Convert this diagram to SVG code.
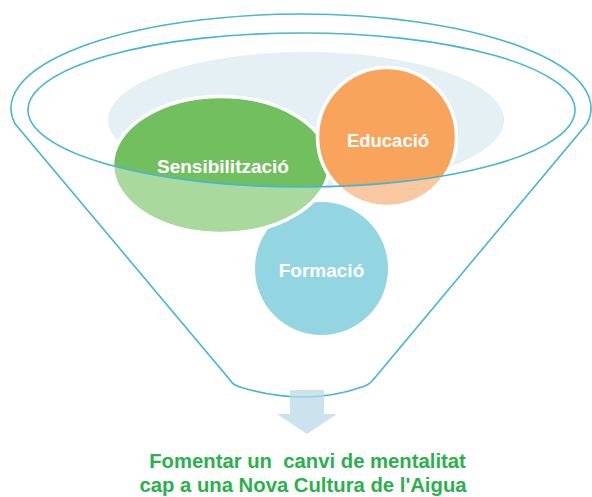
<svg xmlns="http://www.w3.org/2000/svg" width="592" height="497" viewBox="0 0 592 497">
  <style>
    .line { fill: none; stroke: #45b6d3; stroke-width: 1.6; }
    .ring { fill: none; stroke: #ffffff; stroke-width: 3.5; }
    .lbl { font-family: "Liberation Sans", Arial, sans-serif; font-weight: bold; fill: #ffffff; text-anchor: middle; }
    .goal { font-family: "Liberation Sans", Arial, sans-serif; font-weight: bold; fill: #2bb04e; text-anchor: middle; font-size: 20.3px; }
  </style>
  <defs>
    <clipPath id="inner">
      <ellipse cx="301.5" cy="110" rx="273.5" ry="77"/>
    </clipPath>
  </defs>
  <rect width="592" height="497" fill="#ffffff"/>

  <g id="back">
    <ellipse cx="306" cy="120" rx="198" ry="68" fill="#e4f0f4"/>
  </g>

  <g id="node-formacio">
    <circle cx="321.5" cy="268.5" r="66.5" fill="#94d5e2"/>
    <text class="lbl" x="321.5" y="277" font-size="19">Formació</text>
  </g>

  <g id="node-sensibilitzacio">
    <ellipse cx="221" cy="165" rx="107" ry="67" fill="#a9d99c"/>
    <ellipse cx="221" cy="165" rx="107" ry="67" fill="#72bf5f" clip-path="url(#inner)"/>
    <ellipse class="ring" cx="221" cy="165" rx="108.5" ry="68.5"/>
    <text class="lbl" x="223" y="173" font-size="19">Sensibilització</text>
  </g>

  <g id="node-educacio">
    <circle cx="387" cy="137" r="68" fill="#f9c8a0"/>
    <circle cx="387" cy="137" r="68" fill="#f8a45d" clip-path="url(#inner)"/>
    <circle class="ring" cx="387" cy="137" r="69.5"/>
    <text class="lbl" x="388" y="147" font-size="18.5">Educació</text>
  </g>

  <g id="funnel">
    <ellipse class="line" cx="301.5" cy="110" rx="273.5" ry="77"/>
    <path class="line" d="M 15.2,124 A 290 94 0 1 1 586.8,124 L 373,380 Q 369,385 362,387 Q 305,407 240,387 Q 233,385 230,380 Z"/>
  </g>

  <g id="connectors">
    <path d="M 290,390 L 324,390 L 324,414 L 337,414 L 307,434 L 277,414 L 290,414 Z" fill="#b9d9e6" opacity="0.75"/>
  </g>

  <g id="goal">
    <text class="goal" x="307.5" y="468" xml:space="preserve">Fomentar un  canvi de mentalitat</text>
    <text class="goal" x="303" y="492">cap a una Nova Cultura de l'Aigua</text>
  </g>
</svg>
